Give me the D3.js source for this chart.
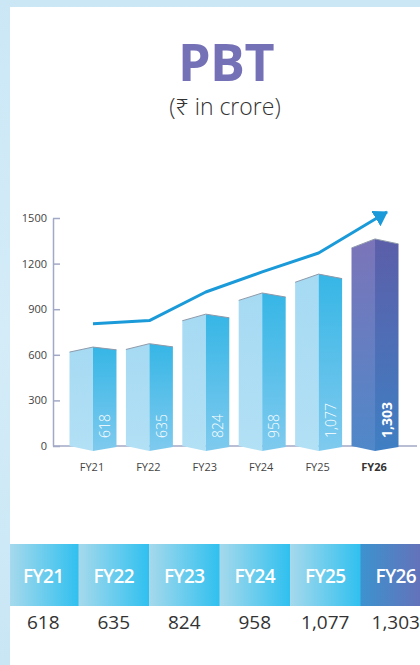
<!DOCTYPE html>
<html>
<head>
<meta charset="utf-8">
<script src="https://cdn.jsdelivr.net/npm/d3@7"></script>
<style>
  html, body { margin: 0; padding: 0; background: #ffffff; }
  svg { display: block; font-family: "Open Sans", "Noto Sans", sans-serif; }
</style>
</head>
<body>
<svg id="chart" width="420" height="665"></svg>
<script>
// ---- data ----
const years = ["FY21", "FY22", "FY23", "FY24", "FY25", "FY26"];
const pbt = [618, 635, 824, 958, 1077, 1303];
// growth trend line drawn above the bars (one level per year, plus the arrow tip)
const trendLevels = [805, 825, 1013, 1145, 1270];
const trendTip = 1540;
const yTicks = [0, 300, 600, 900, 1200, 1500];
const highlightYear = "FY26";

const fmt = d3.format(",");
const W = 420, H = 665;
const svg = d3.select("#chart");
const defs = svg.append("defs");

// ---- page frame: light blue border with a white panel ----
const bg = defs.append("linearGradient").attr("id", "frameGrad")
  .attr("x1", 0).attr("y1", 0).attr("x2", 0).attr("y2", 1);
bg.append("stop").attr("offset", 0).attr("stop-color", "#cbe7f6");
bg.append("stop").attr("offset", 0.5).attr("stop-color", "#d4ecf8");
bg.append("stop").attr("offset", 1).attr("stop-color", "#c9e6f5");
svg.append("rect").attr("width", W).attr("height", H).attr("fill", "url(#frameGrad)");
svg.append("rect").attr("x", 10).attr("y", 7).attr("width", W - 10).attr("height", H - 7)
  .attr("fill", "#ffffff");

// ---- title ----
svg.append("text").attr("x", 226).attr("y", 81)
  .attr("text-anchor", "middle").attr("font-size", 52).attr("font-weight", 700)
  .attr("letter-spacing", -0.5)
  .attr("fill", "#7571b7").text("PBT");
svg.append("text").attr("x", 225).attr("y", 115)
  .attr("text-anchor", "middle").attr("font-size", 23).attr("font-weight", 300)
  .attr("fill", "#333333").text("(₹ in crore)");

// ---- scales ----
const y = d3.scaleLinear().domain([0, 1500]).range([446, 218]);
const x = d3.scaleBand().domain(years).range([69.5, 398.5]).paddingInner(0.167).paddingOuter(0);
const bw = x.bandwidth();
const half = bw / 2;
const cx = d => x(d) + half;
const y0 = y(0);
const axisX = 53;

// ---- gradients for bar faces ----
function vGrad(id, top, bottom) {
  const g = defs.append("linearGradient").attr("id", id)
    .attr("x1", 0).attr("y1", 0).attr("x2", 0).attr("y2", 1);
  g.append("stop").attr("offset", 0).attr("stop-color", top);
  g.append("stop").attr("offset", 1).attr("stop-color", bottom);
}
vGrad("blueLeft", "#a6daf3", "#b2e0f5");
vGrad("blueRight", "#36b6e6", "#7fcaee");
vGrad("purpleLeft", "#7c74b9", "#4f88c9");
vGrad("purpleRight", "#5c5ea9", "#3f7fc3");

// ---- y axis ----
const yAxis = d3.axisLeft(y).tickValues(yTicks)
  .tickSizeInner(-7).tickSizeOuter(0).tickPadding(6)
  .tickFormat(d3.format("d"));
const gy = svg.append("g").attr("transform", `translate(${axisX},0)`).call(yAxis);
gy.select(".domain").attr("stroke", "#a2a9c6").attr("stroke-width", 1.5);
gy.selectAll(".tick line").attr("stroke", "#a2a9c6").attr("stroke-width", 1.5);
gy.selectAll(".tick text").attr("font-size", 11).attr("fill", "#444444")
  .attr("font-family", "\"Open Sans\", sans-serif");

// baseline
svg.append("line").attr("x1", axisX).attr("x2", 417).attr("y1", y0).attr("y2", y0)
  .attr("stroke", "#a2a9c6").attr("stroke-width", 1.5);

// ---- 3D prism bars ----
const rise = d3.scaleLinear().domain([0, years.length - 1]).range([5, 9]);
const bars = svg.append("g").selectAll("g").data(years.map((yr, i) => ({ yr, v: pbt[i], i })))
  .join("g");

bars.append("path")
  .attr("fill", d => d.yr === highlightYear ? "url(#purpleLeft)" : "url(#blueLeft)")
  .attr("d", d => {
    const c = cx(d.yr), top = y(d.v), r = rise(d.i);
    return `M${c - half},${top} L${c},${top - r} L${c},${y0 + 5} L${c - half},${y0} Z`;
  });
bars.append("path")
  .attr("fill", d => d.yr === highlightYear ? "url(#purpleRight)" : "url(#blueRight)")
  .attr("d", d => {
    const c = cx(d.yr), top = y(d.v), r = rise(d.i);
    return `M${c},${top - r} L${c + half},${top - r * 0.45} L${c + half},${y0 + 1} L${c},${y0 + 5} Z`;
  });
// roof edge
bars.append("path").attr("fill", "none").attr("stroke", "#8e9aab").attr("stroke-width", 1)
  .attr("d", d => {
    const c = cx(d.yr), top = y(d.v), r = rise(d.i);
    return `M${c - half},${top} L${c},${top - r} L${c + half},${top - r * 0.45}`;
  });

// value labels, rotated inside the right face
bars.append("text")
  .attr("transform", d => `translate(${cx(d.yr) + half / 2 + 5.5},${y0 - 8}) rotate(-90)`)
  .attr("font-size", 14)
  .attr("font-weight", d => d.yr === highlightYear ? 700 : 300)
  .attr("fill", "#ffffff")
  .text(d => fmt(d.v));

// category labels
svg.append("g").selectAll("text").data(years).join("text")
  .attr("x", d => cx(d) - 1).attr("y", 471)
  .attr("text-anchor", "middle").attr("font-size", 11)
  .attr("font-weight", d => d === highlightYear ? 700 : 400)
  .attr("fill", d => d === highlightYear ? "#333333" : "#444444")
  .text(d => d);

// ---- trend arrow ----
defs.append("marker").attr("id", "arrowHead")
  .attr("viewBox", "0 0 14 18").attr("refX", 13).attr("refY", 9)
  .attr("markerWidth", 14).attr("markerHeight", 18)
  .attr("markerUnits", "userSpaceOnUse").attr("orient", "auto")
  .append("path").attr("d", "M0,0 L14,9 L0,18 Z").attr("fill", "#1a9ad8");

const trendPts = trendLevels.map((v, i) => [cx(years[i]), y(v)]);
trendPts.push([cx(highlightYear) + 12, y(trendTip)]);
svg.append("path").datum(trendPts)
  .attr("d", d3.line())
  .attr("fill", "none").attr("stroke", "#1a9ad8").attr("stroke-width", 3)
  .attr("stroke-linejoin", "round")
  .attr("marker-end", "url(#arrowHead)");

// ---- summary table ----
const colX = d3.scaleBand().domain(years).range([8, 431]);
const cw = colX.bandwidth();

function hGrad(id, left, right) {
  const g = defs.append("linearGradient").attr("id", id)
    .attr("x1", 0).attr("y1", 0).attr("x2", 1).attr("y2", 0);
  g.append("stop").attr("offset", 0).attr("stop-color", left);
  g.append("stop").attr("offset", 1).attr("stop-color", right);
}
hGrad("cellBlue", "#a6d9ec", "#2fc0ef");
hGrad("cellPurple", "#3c93cf", "#6b6cb6");

const table = svg.append("g");
table.selectAll("rect").data(years).join("rect")
  .attr("x", d => Math.max(colX(d), 10)).attr("y", 544)
  .attr("width", d => cw - (Math.max(colX(d), 10) - colX(d)) + 0.5).attr("height", 62)
  .attr("fill", d => d === highlightYear ? "url(#cellPurple)" : "url(#cellBlue)");

table.selectAll("text.hdr").data(years).join("text").attr("class", "hdr")
  .attr("x", d => colX(d) + cw / 2).attr("y", 583)
  .attr("text-anchor", "middle").attr("font-size", 19).attr("font-weight", 600)
  .attr("letter-spacing", -0.6)
  .attr("fill", "#ffffff").text(d => d);

table.selectAll("text.val").data(years.map((yr, i) => ({ yr, v: pbt[i] }))).join("text")
  .attr("class", "val")
  .attr("x", d => colX(d.yr) + cw / 2).attr("y", 629)
  .attr("text-anchor", "middle").attr("font-size", 19).attr("font-weight", 400)
  .attr("fill", "#333333").text(d => fmt(d.v));
</script>
</body>
</html>
